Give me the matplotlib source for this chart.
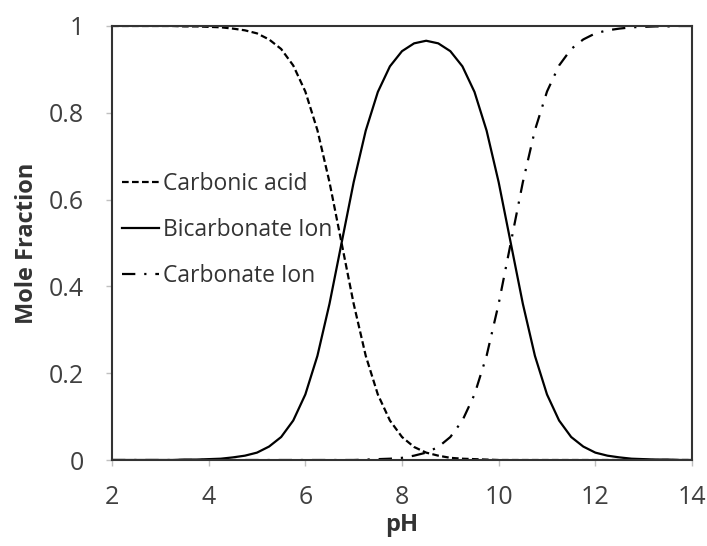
import numpy as np
import matplotlib
matplotlib.use('Agg')
import matplotlib.pyplot as plt

plt.rcParams['font.family'] = ['Open Sans', 'DejaVu Sans']

# pH values (0.25 step)
ph = [2.0, 2.25, 2.5, 2.75, 3.0, 3.25, 3.5, 3.75, 4.0, 4.25, 4.5, 4.75,
      5.0, 5.25, 5.5, 5.75, 6.0, 6.25, 6.5, 6.75, 7.0, 7.25, 7.5, 7.75,
      8.0, 8.25, 8.5, 8.75, 9.0, 9.25, 9.5, 9.75, 10.0, 10.25, 10.5, 10.75,
      11.0, 11.25, 11.5, 11.75, 12.0, 12.25, 12.5, 12.75, 13.0, 13.25, 13.5, 13.75, 14.0]

carbonic_acid = [1.0, 1.0, 1.0, 1.0, 1.0, 1.0, 0.999, 0.999, 0.998, 0.997, 0.994, 0.990,
                 0.983, 0.969, 0.947, 0.909, 0.849, 0.760, 0.640, 0.500, 0.360, 0.240, 0.151, 0.091,
                 0.053, 0.030, 0.017, 0.010, 0.005, 0.003, 0.002, 0.001, 0.0, 0.0, 0.0, 0.0,
                 0.0, 0.0, 0.0, 0.0, 0.0, 0.0, 0.0, 0.0, 0.0, 0.0, 0.0, 0.0, 0.0]

bicarbonate = [0.0, 0.0, 0.0, 0.0, 0.0, 0.0, 0.001, 0.001, 0.002, 0.003, 0.006, 0.010,
               0.017, 0.031, 0.053, 0.091, 0.151, 0.240, 0.360, 0.500, 0.640, 0.759, 0.848, 0.907,
               0.942, 0.960, 0.966, 0.960, 0.942, 0.907, 0.848, 0.759, 0.640, 0.500, 0.360, 0.240,
               0.151, 0.091, 0.053, 0.031, 0.017, 0.010, 0.006, 0.003, 0.002, 0.001, 0.001, 0.0, 0.0]

carbonate = [0.0, 0.0, 0.0, 0.0, 0.0, 0.0, 0.0, 0.0, 0.0, 0.0, 0.0, 0.0,
             0.0, 0.0, 0.0, 0.0, 0.0, 0.0, 0.0, 0.0, 0.0, 0.001, 0.002, 0.003,
             0.005, 0.010, 0.017, 0.030, 0.053, 0.091, 0.151, 0.240, 0.360, 0.500, 0.640, 0.760,
             0.849, 0.909, 0.947, 0.969, 0.983, 0.990, 0.994, 0.997, 0.998, 0.999, 0.999, 1.0, 1.0]

fig = plt.figure(figsize=(7.07, 5.46), dpi=100)
ax = fig.add_axes([0.1584, 0.1575, 0.8204, 0.7949])

lw = 1.6
ax.plot(ph, carbonic_acid, color='black', lw=lw, linestyle=(0, (3, 1.5)), label='Carbonic acid')
ax.plot(ph, bicarbonate, color='black', lw=lw, linestyle='-', label='Bicarbonate Ion')
ax.plot(ph, carbonate, color='black', lw=lw, linestyle=(0, (6, 4, 1, 4)), label='Carbonate Ion')

ax.set_xlim(2, 14)
ax.set_ylim(0, 1)
ax.set_xticks([2, 4, 6, 8, 10, 12, 14])
ax.set_yticks([0, 0.2, 0.4, 0.6, 0.8, 1])
ax.set_yticklabels(['0', '0.2', '0.4', '0.6', '0.8', '1'])

for s in ax.spines.values():
    s.set_color('#333333')
    s.set_linewidth(1.5)

ax.tick_params(axis='both', direction='out', length=4, width=1, color='#c0c0c0',
               labelcolor='#404040', labelsize=18)
ax.tick_params(axis='y', pad=16)
ax.tick_params(axis='x', pad=14)

ax.set_xlabel('pH', fontsize=17, fontweight='bold', color='#333333', labelpad=2)
ax.set_ylabel('Mole Fraction', fontsize=17, fontweight='bold', color='#333333', labelpad=7)

leg = ax.legend(loc='upper left', bbox_to_anchor=(-0.01, 0.70), frameon=False,
                fontsize=16.5, handlelength=1.6, handletextpad=0.2, labelspacing=0.95,
                borderaxespad=0.3)
for t in leg.get_texts():
    t.set_color('#333333')

fig.savefig('out.png', dpi=100)
